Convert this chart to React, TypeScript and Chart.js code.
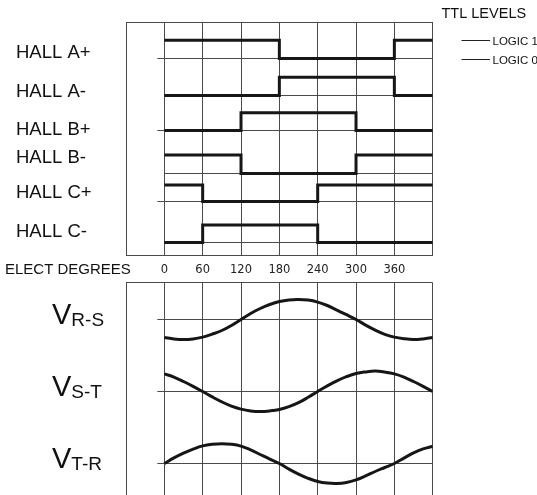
import React, { useEffect, useRef } from 'react';
import { Chart, registerables } from 'chart.js';

Chart.register(...registerables);

// ---------------- data ----------------
const sectorStarts = [0, 60, 120, 180, 240, 300, 360, 420];
const degreeTickLabels = ['0', '60', '120', '180', '240', '300', '360'];

const hallNames = ['HALL A+', 'HALL A-', 'HALL B+', 'HALL B-', 'HALL C+', 'HALL C-'];
const hallAPlus = [1, 1, 1, 0, 0, 0, 1, 1];
const hallAMinus = [0, 0, 0, 1, 1, 1, 0, 0];
const hallBPlus = [0, 0, 1, 1, 1, 0, 0, 0];
const hallBMinus = [1, 1, 0, 0, 0, 1, 1, 1];
const hallCPlus = [1, 0, 0, 0, 1, 1, 1, 1];
const hallCMinus = [0, 1, 1, 1, 0, 0, 0, 0];

const waveDegrees = [0, 15, 30, 45, 60, 75, 90, 105, 120, 135, 150, 165, 180, 195, 210, 225, 240, 255, 270, 285, 300, 315, 330, 345, 360, 375, 390, 405, 420];
const vRS = [-0.9, -0.97, -1.0, -0.97, -0.88, -0.73, -0.55, -0.3, 0.0, 0.3, 0.55, 0.75, 0.9, 0.98, 1.0, 0.97, 0.87, 0.7, 0.47, 0.24, 0.0, -0.28, -0.53, -0.74, -0.88, -0.96, -1.0, -0.97, -0.9];
const vST = [0.88, 0.72, 0.5, 0.26, 0.0, -0.27, -0.52, -0.73, -0.88, -0.97, -1.0, -0.97, -0.9, -0.76, -0.56, -0.29, 0.0, 0.28, 0.53, 0.74, 0.9, 0.98, 1.02, 0.97, 0.88, 0.72, 0.5, 0.26, 0.0];
const vTR = [0.0, 0.28, 0.52, 0.72, 0.88, 0.96, 0.99, 0.96, 0.87, 0.68, 0.45, 0.22, 0.0, -0.28, -0.53, -0.74, -0.9, -0.98, -1.0, -0.95, -0.82, -0.62, -0.4, -0.2, 0.0, 0.27, 0.53, 0.73, 0.86];

const waveSymbol = 'V';
const waveSubscripts = ['R-S', 'S-T', 'T-R'];
const legendTitle = 'TTL LEVELS';
const legendLevels = ['LOGIC 1', 'LOGIC 0'];
const xAxisTitle = 'ELECT DEGREES';

// ---------------- layout / style ----------------
const W = 537;
const H = 495;
const PLOT_LEFT = 126;
const PLOT_RIGHT = 432.7;
const UP_CANVAS_H = 282;
const UP_TOP = 22;
const UP_BOTTOM = 255;
const HALL_LOW_PX = [58.5, 95.5, 130.5, 173.5, 201.5, 242.5];
const HALL_HIGH_PX = [40.3, 77.3, 112.7, 155, 185, 225];
const HALL_LINE_START = [-11, 0, -11, 0, -11, 0];
const HALL_LABEL_BASE_PX = [58.3, 96.7, 135, 162.7, 198.3, 237.3];

const LOW_CANVAS_TOP = 276;
const LOW_CANVAS_H = 224;
const LOW_TOP = 282.7;
const LOW_H = 216;
const WAVE_CENTER_PX = [319.5, 391.5, 463.5];
const WAVE_AMP_PX = 20;
const WAVE_LINE_START = -11;

const GRID = '#4a4a4a';
const INK = '#161616';
const SANS = '"Liberation Sans", Arial, Helvetica, sans-serif';

function upperConfig(): any {
  const series = [hallAPlus, hallAMinus, hallBPlus, hallBMinus, hallCPlus, hallCMinus];
  const datasets: any[] = [];
  series.forEach((s, i) => {
    datasets.push({
      label: hallNames[i],
      data: sectorStarts.map((x, j) => ({ x, y: s[j] })),
      yAxisID: 'h' + i,
      stepped: true,
      borderColor: INK,
      borderWidth: 3,
      borderJoinStyle: 'miter',
      borderCapStyle: 'butt',
      pointRadius: 0,
      fill: false,
      order: 0,
    });
  });
  series.forEach((_s, i) => {
    datasets.push({
      label: 'grid' + i,
      data: [
        { x: HALL_LINE_START[i], y: 0 },
        { x: sectorStarts[sectorStarts.length - 1], y: 0 },
      ],
      yAxisID: 'h' + i,
      borderColor: GRID,
      borderWidth: 1,
      pointRadius: 0,
      fill: false,
      order: 1,
    });
  });

  const plotH = UP_BOTTOM - UP_TOP;
  const scales: any = {
    x: {
      type: 'linear',
      min: -60,
      max: 420,
      ticks: {
        stepSize: 60,
        autoSkip: false,
        maxRotation: 0,
        padding: 8,
        color: '#222',
        font: { family: '"DejaVu Sans", sans-serif', size: 11.5 },
        callback: (_v: any, i: number) => degreeTickLabels[i - 1] ?? '',
      },
      grid: { color: GRID, lineWidth: 1, drawTicks: false },
      border: { display: true, color: GRID },
      afterFit: (s: any) => { s.height = UP_CANVAS_H - UP_BOTTOM; },
    },
    frame: {
      type: 'linear',
      position: 'left',
      min: 0,
      max: 1,
      ticks: { display: false, stepSize: 1 },
      grid: { color: GRID, lineWidth: 1, drawTicks: false },
      border: { display: false },
      afterFit: (s: any) => { s.width = 0; },
    },
  };
  HALL_LOW_PX.forEach((L, i) => {
    const unit = L - HALL_HIGH_PX[i];
    const max = (L - UP_TOP) / unit;
    scales['h' + i] = {
      type: 'linear',
      display: false,
      min: max - plotH / unit,
      max,
    };
  });

  const textPlugin = {
    id: 'upperText',
    afterDraw(chart: any) {
      const ctx = chart.ctx;
      ctx.save();
      ctx.fillStyle = '#111';
      ctx.textAlign = 'left';
      ctx.textBaseline = 'alphabetic';
      ctx.font = `18.5px ${SANS}`;
      hallNames.forEach((n, i) => ctx.fillText(n, 16, HALL_LABEL_BASE_PX[i]));
      ctx.font = `15px ${SANS}`;
      ctx.fillText(xAxisTitle, 5, 274);
      // legend
      ctx.font = `14.5px ${SANS}`;
      ctx.fillText(legendTitle, 441.5, 17.5);
      const s0 = chart.scales.h0;
      const ys = [s0.getPixelForValue(1), s0.getPixelForValue(0)];
      ctx.strokeStyle = '#222';
      ctx.lineWidth = 1;
      ctx.font = `11.5px ${SANS}`;
      ys.forEach((y: number, k: number) => {
        const yy = Math.round(y) + 0.5;
        ctx.beginPath();
        ctx.moveTo(461.5, yy);
        ctx.lineTo(490, yy);
        ctx.stroke();
        ctx.fillText(legendLevels[k], 492.5, yy + 4.5);
      });
      ctx.restore();
    },
  };

  return {
    type: 'line',
    data: { datasets },
    options: {
      responsive: false,
      animation: false,
      devicePixelRatio: 1,
      events: [],
      layout: { padding: { left: PLOT_LEFT, right: W - PLOT_RIGHT, top: UP_TOP, bottom: 0 } },
      plugins: { legend: { display: false }, tooltip: { enabled: false } },
      scales,
    },
    plugins: [textPlugin],
  };
}

function lowerConfig(): any {
  const waves = [vRS, vST, vTR];
  const datasets: any[] = [];
  waves.forEach((w, i) => {
    datasets.push({
      label: waveSymbol + waveSubscripts[i],
      data: waveDegrees.map((x, j) => ({ x, y: w[j] })),
      yAxisID: 'w' + i,
      borderColor: INK,
      borderWidth: 3,
      tension: 0.4,
      pointRadius: 0,
      fill: false,
      order: 0,
    });
    datasets.push({
      label: 'axis' + i,
      data: [
        { x: WAVE_LINE_START, y: 0 },
        { x: waveDegrees[waveDegrees.length - 1], y: 0 },
      ],
      yAxisID: 'w' + i,
      borderColor: GRID,
      borderWidth: 1,
      pointRadius: 0,
      fill: false,
      order: 1,
    });
  });

  const scales: any = {
    x: {
      type: 'linear',
      min: -60,
      max: 420,
      ticks: { display: false, stepSize: 60, autoSkip: false },
      grid: { color: GRID, lineWidth: 1, drawTicks: false },
      border: { display: false },
      afterFit: (s: any) => { s.height = 0; },
    },
    frame: {
      type: 'linear',
      position: 'left',
      min: 0,
      max: 1,
      ticks: { display: false, stepSize: 1 },
      grid: { color: GRID, lineWidth: 1, drawTicks: false },
      border: { display: false },
      afterFit: (s: any) => { s.width = 0; },
    },
  };
  WAVE_CENTER_PX.forEach((c, i) => {
    const max = (c - LOW_TOP) / WAVE_AMP_PX;
    scales['w' + i] = {
      type: 'linear',
      display: false,
      min: max - LOW_H / WAVE_AMP_PX,
      max,
    };
  });

  const textPlugin = {
    id: 'lowerText',
    afterDraw(chart: any) {
      const ctx = chart.ctx;
      ctx.save();
      ctx.fillStyle = '#111';
      ctx.textAlign = 'left';
      ctx.textBaseline = 'alphabetic';
      waveSubscripts.forEach((sub, i) => {
        const y = chart.scales['w' + i].getPixelForValue(0);
        ctx.font = `29px ${SANS}`;
        ctx.fillText(waveSymbol, 52, y + 4.5);
        const vw = ctx.measureText(waveSymbol).width;
        ctx.font = `19px ${SANS}`;
        ctx.fillText(sub, 52 + vw, y + 6.5);
      });
      ctx.restore();
    },
  };

  const padTop = LOW_TOP - LOW_CANVAS_TOP;
  return {
    type: 'line',
    data: { datasets },
    options: {
      responsive: false,
      animation: false,
      devicePixelRatio: 1,
      events: [],
      layout: {
        padding: {
          left: PLOT_LEFT,
          right: W - PLOT_RIGHT,
          top: padTop,
          bottom: LOW_CANVAS_H - padTop - LOW_H,
        },
      },
      plugins: { legend: { display: false }, tooltip: { enabled: false } },
      scales,
    },
    plugins: [textPlugin],
  };
}

export default function App() {
  const upRef = useRef<HTMLCanvasElement>(null);
  const lowRef = useRef<HTMLCanvasElement>(null);

  useEffect(() => {
    const c1 = new Chart(upRef.current as HTMLCanvasElement, upperConfig());
    const c2 = new Chart(lowRef.current as HTMLCanvasElement, lowerConfig());
    return () => {
      c1.destroy();
      c2.destroy();
    };
  }, []);

  return (
    <div
      style={{
        position: 'fixed',
        left: 0,
        top: 0,
        width: W,
        height: H,
        overflow: 'hidden',
        background: '#fff',
      }}
    >
      <canvas
        ref={upRef}
        width={W}
        height={UP_CANVAS_H}
        style={{ position: 'absolute', left: 0, top: 0, width: W, height: UP_CANVAS_H }}
      />
      <canvas
        ref={lowRef}
        width={W}
        height={LOW_CANVAS_H}
        style={{ position: 'absolute', left: 0, top: LOW_CANVAS_TOP, width: W, height: LOW_CANVAS_H }}
      />
    </div>
  );
}
